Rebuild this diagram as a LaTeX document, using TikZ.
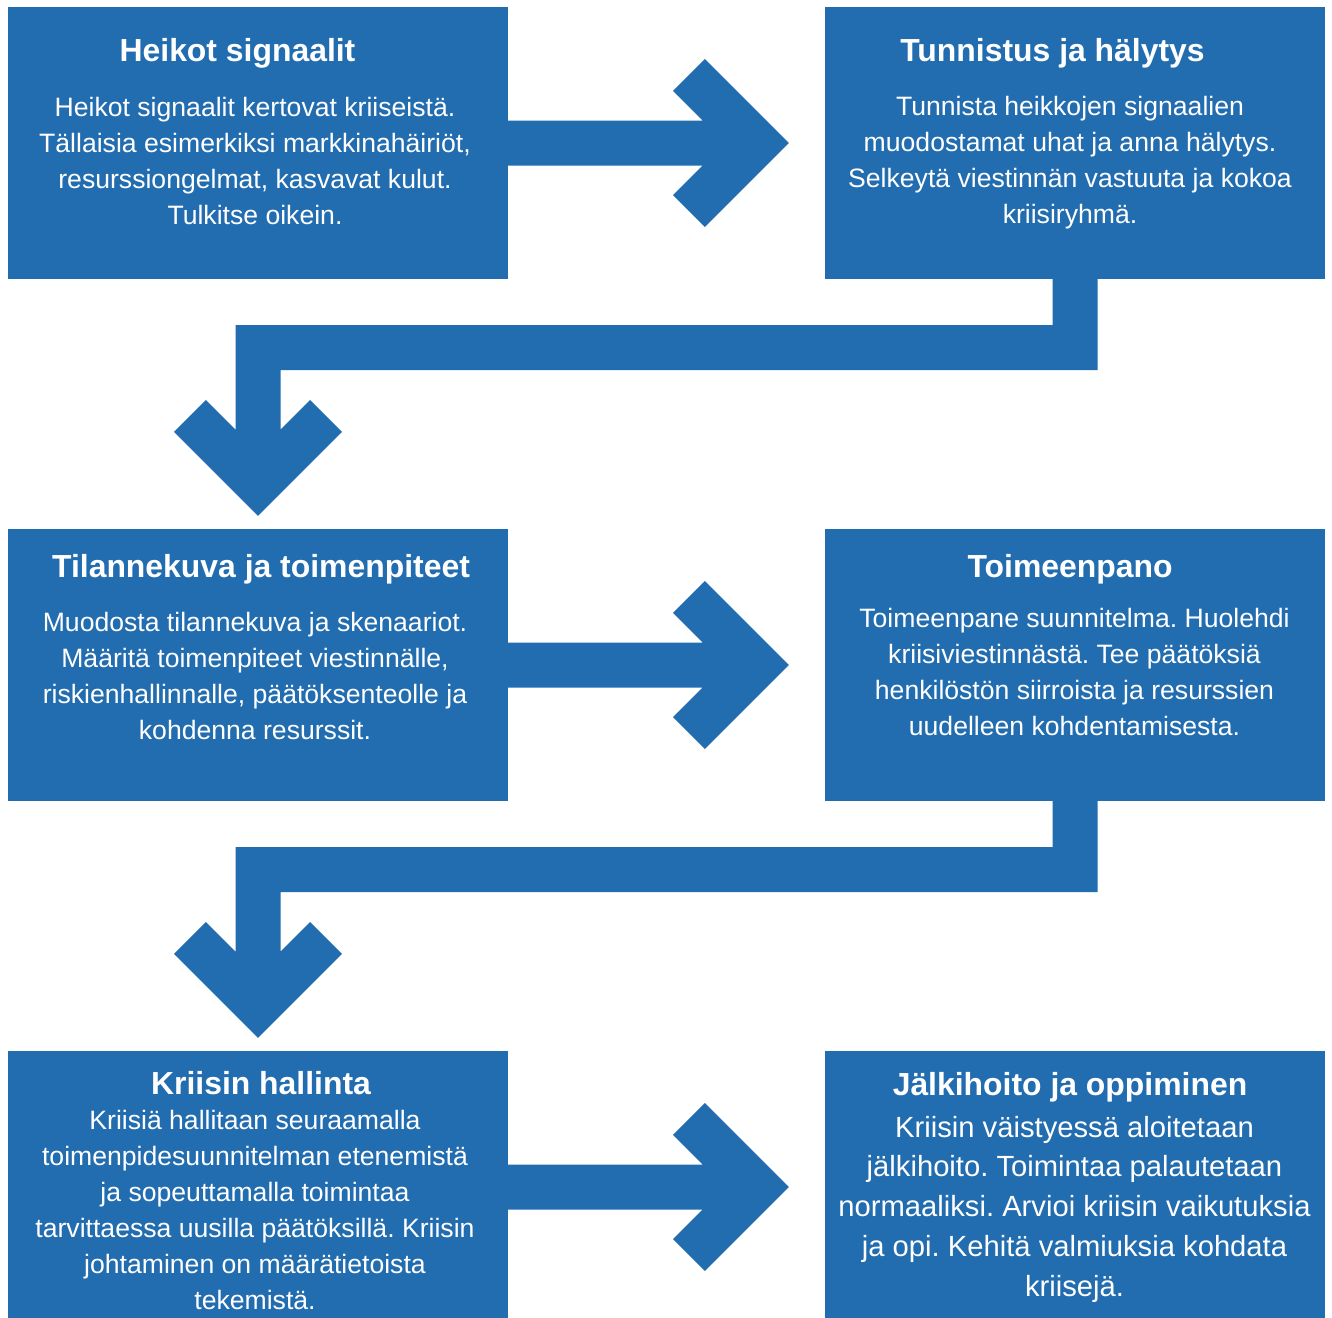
\documentclass[tikz,border=0pt]{standalone}
\usepackage{fontspec}
\setmainfont{Liberation Sans}
\usetikzlibrary{calc}
\frenchspacing
\definecolor{boxblue}{RGB}{34,108,176}
\tikzset{
  box/.style={fill=boxblue, draw=none, inner sep=0pt, minimum width=500pt, minimum height=272pt},
  ttl/.style={text=white, inner sep=0pt, anchor=base, font=\fontsize{31.9}{36}\selectfont\bfseries},
  bodytxt/.style={text=white, inner sep=0pt, anchor=base, font=\fontsize{26.6}{36}\selectfont},
  bodybig/.style={text=white, inner sep=0pt, anchor=base, font=\fontsize{29.2}{39.8}\selectfont},
  conn/.style={fill=boxblue, draw=none}
}
\newcommand{\lines}[1]{\begin{tabular}[t]{@{}c@{}}#1\end{tabular}}
\begin{document}
\begin{tikzpicture}[x=1pt, y=-1pt]
\useasboundingbox (0,0) rectangle (1332,1317);
% boxes
\node[box] (b1) at (258,143) {};
\node[box] (b2) at (1075,143) {};
\node[box] (b3) at (258,665) {};
\node[box] (b4) at (1075,665) {};
\node[box] (b5) at (258,1187) {};
\node[box] (b6) at (1075,1187) {};
% texts
\node[ttl] (t1) at (237.5,61) {Heikot signaalit};
\node[bodytxt] (x1) at (255,116) {\lines{Heikot signaalit kertovat kriiseistä.\\Tällaisia esimerkiksi markkinahäiriöt,\\resurssiongelmat, kasvavat kulut.\\Tulkitse oikein.}};
\node[ttl] (t2) at (1052.5,61) {Tunnistus ja hälytys};
\node[bodytxt] (x2) at (1070,115) {\lines{Tunnista heikkojen signaalien\\muodostamat uhat ja anna hälytys.\\Selkeytä viestinnän vastuuta ja kokoa\\kriisiryhmä.}};
\node[ttl] (t3) at (261,577) {Tilannekuva ja toimenpiteet};
\node[bodytxt] (x3) at (255,631) {\lines{Muodosta tilannekuva ja skenaariot.\\Määritä toimenpiteet viestinnälle,\\riskienhallinnalle, päätöksenteolle ja\\kohdenna resurssit.}};
\node[ttl] (t4) at (1070,577) {Toimeenpano};
\node[bodytxt] (x4) at (1074.5,627) {\lines{Toimeenpane suunnitelma. Huolehdi\\kriisiviestinnästä. Tee päätöksiä\\henkilöstön siirroista ja resurssien\\uudelleen kohdentamisesta.}};
\node[ttl] (t5) at (261,1094) {Kriisin hallinta};
\node[bodytxt] (x5) at (255,1129) {\lines{Kriisiä hallitaan seuraamalla\\toimenpidesuunnitelman etenemistä\\ja sopeuttamalla toimintaa\\tarvittaessa uusilla päätöksillä. Kriisin\\johtaminen on määrätietoista\\tekemistä.}};
\node[ttl] (t6) at (1070,1095) {Jälkihoito ja oppiminen};
\node[bodybig] (x6) at (1074.5,1137) {\lines{Kriisin väistyessä aloitetaan\\jälkihoito. Toimintaa palautetaan\\normaaliksi. Arvioi kriisin vaikutuksia\\ja opi. Kehitä valmiuksia kohdata\\kriisejä.}};
% right arrows
\foreach \a/\b/\r in {b1/b2/r1, b3/b4/r2, b5/b6/r3}{
  \coordinate (\r) at ($(\b.west)+(-36,0)$);
  \fill[conn] ($(\a.east)+(0,-22.5)$) -- ($(\r)+(-86.1,-22.5)$) -- ($(\r)+(-115.8,-52.2)$)
    -- ($(\r)+(-84,-84)$) -- (\r) -- ($(\r)+(-84,84)$) -- ($(\r)+(-115.8,52.2)$)
    -- ($(\r)+(-86.1,22.5)$) -- ($(\a.east)+(0,22.5)$) -- cycle;
}
% elbow arrows
\foreach \a/\b/\t/\m in {b2/b3/d1/m1, b4/b5/d2/m2}{
  \coordinate (\t) at ($(\b.north)+(0,-13)$);
  \coordinate (\m) at ($(\a.south)+(0,68.5)$);
  \fill[conn] ($(\a.south)+(-22.5,0)$) -- ($(\a.south)+(22.5,0)$) -- ($(\m)+(22.5,22.5)$)
    -- ($(\t|-\m)+(22.5,22.5)$) -- ($(\t)+(22.5,-86.1)$) -- ($(\t)+(52.2,-115.8)$)
    -- ($(\t)+(84,-84)$) -- (\t) -- ($(\t)+(-84,-84)$) -- ($(\t)+(-52.2,-115.8)$)
    -- ($(\t)+(-22.5,-86.1)$) -- ($(\t|-\m)+(-22.5,-22.5)$) -- ($(\m)+(-22.5,-22.5)$) -- cycle;
}
\end{tikzpicture}
\end{document}
